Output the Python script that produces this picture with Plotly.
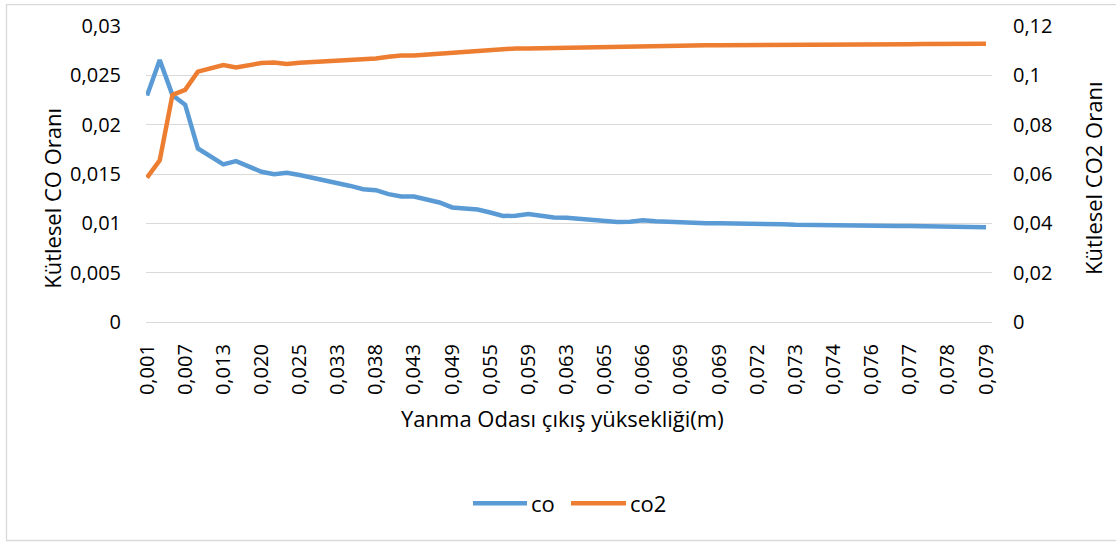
import plotly.graph_objects as go

# Combustion chamber exit height categories (every third one is labelled)
tick_labels = ["0,001", "0,007", "0,013", "0,020", "0,025", "0,033", "0,038", "0,043",
               "0,049", "0,055", "0,059", "0,063", "0,065", "0,066", "0,069", "0,069",
               "0,072", "0,073", "0,074", "0,076", "0,077", "0,078", "0,079"]
label_step = 3

# Mass fraction of CO (left axis)
co = [0.02295, 0.02655, 0.0230, 0.02202, 0.01759, 0.01681, 0.01597, 0.01631, 0.01581,
      0.01523, 0.01497, 0.01513, 0.0149, 0.01463, 0.0144, 0.01413, 0.01379, 0.01346,
      0.01336, 0.01296, 0.01272, 0.01272, 0.01245,
      0.01211, 0.01161, 0.01148, 0.0114, 0.0111, 0.01074, 0.01077, 0.01094, 0.01077,
      0.0106, 0.01057, 0.01044, 0.0104, 0.01027, 0.01014, 0.01017, 0.0103, 0.0102,
      0.01014, 0.01003, 0.0100, 0.0100, 0.0100,
      0.0100, 0.00998, 0.00995, 0.00993, 0.0099, 0.00985, 0.00982, 0.0098, 0.00978,
      0.00975, 0.00975, 0.00972, 0.0097, 0.00972, 0.00972, 0.0097, 0.00968, 0.00965,
      0.00962, 0.0096, 0.0096]

# Mass fraction of CO2 (right axis)
co2 = [0.0585, 0.0655, 0.0921, 0.0941, 0.1015, 0.1028, 0.1042, 0.1032, 0.1042, 0.105,
       0.1052, 0.1046, 0.1051, 0.1054, 0.1055, 0.1058, 0.1062, 0.1068, 0.1068, 0.1075,
       0.108, 0.108, 0.1084,
       0.1087, 0.1093, 0.1095, 0.1097, 0.1101, 0.1107, 0.1109, 0.1109, 0.111, 0.1111,
       0.1113, 0.1114, 0.1115, 0.1118, 0.1119, 0.1118, 0.1119, 0.1121, 0.1121, 0.1122,
       0.1122, 0.1122, 0.1122,
       0.1122, 0.1123, 0.1123, 0.1123, 0.1124, 0.1124, 0.1124, 0.1125, 0.1125, 0.1125,
       0.1125, 0.1126, 0.1126, 0.1126, 0.1126, 0.1127, 0.1127, 0.1127, 0.1128, 0.1128,
       0.1128]

left_ticks = [0, 0.005, 0.01, 0.015, 0.02, 0.025, 0.03]
left_tick_text = ["0", "0,005", "0,01", "0,015", "0,02", "0,025", "0,03"]
right_ticks = [0, 0.02, 0.04, 0.06, 0.08, 0.1, 0.12]
right_tick_text = ["0", "0,02", "0,04", "0,06", "0,08", "0,1", "0,12"]

series_names = ["co", "co2"]
BLUE = "#5B9BD5"
ORANGE = "#ED7D31"
GRID = "#D9D9D9"
TEXT = "#000000"
FONT = "Open Sans"
TICK_SIZE = 20
TITLE_SIZE = 22

W, H = 1116, 545
L, R, T, B = 146, 124, 24, 223
pw, ph = W - L - R, H - T - B


def px(x):
    return (x - L) / pw


def py(y):
    return (H - B - y) / ph


x = list(range(len(co)))

fig = go.Figure()
fig.add_trace(go.Scatter(x=x, y=co, name=series_names[0], mode="lines",
                         line=dict(color=BLUE, width=4.5), yaxis="y", showlegend=False))
fig.add_trace(go.Scatter(x=x, y=co2, name=series_names[1], mode="lines",
                         line=dict(color=ORANGE, width=4.5), yaxis="y2", showlegend=False))

fig.update_layout(
    width=W, height=H,
    margin=dict(l=L, r=R, t=T, b=B),
    paper_bgcolor="white", plot_bgcolor="white",
    font=dict(family=FONT, size=TICK_SIZE, color=TEXT),
    xaxis=dict(
        range=[-0.08, len(co) - 1 + 0.47],
        tickvals=x[::label_step], ticktext=tick_labels,
        tickangle=-90, showgrid=False, zeroline=False,
        showline=True, linecolor=GRID, linewidth=1.3,
        ticks="", ticklabelstandoff=13,
        tickfont=dict(family=FONT, size=TICK_SIZE, color=TEXT),
    ),
    yaxis=dict(
        range=[0, 0.03], tickvals=left_ticks, ticktext=left_tick_text,
        showgrid=True, gridcolor=GRID, gridwidth=1.3, zeroline=False,
        ticks="", ticklabelstandoff=24,
        tickfont=dict(family=FONT, size=TICK_SIZE, color=TEXT),
    ),
    yaxis2=dict(
        range=[0, 0.12], tickvals=right_ticks, ticktext=right_tick_text,
        overlaying="y", side="right", showgrid=False, zeroline=False,
        ticks="", ticklabelstandoff=20,
        tickfont=dict(family=FONT, size=TICK_SIZE, color=TEXT),
    ),
)

# Outer chart frame
fig.add_shape(type="rect", xref="paper", yref="paper",
              x0=px(6.5), x1=px(1125), y0=py(542), y1=py(2.5),
              line=dict(color=GRID, width=1.3), fillcolor="rgba(0,0,0,0)", layer="below")

# Axis titles
fig.add_annotation(text="Yanma Odası çıkış yüksekliği(m)", xref="paper", yref="paper",
                   x=px(562), y=py(419), xanchor="center", yanchor="middle",
                   showarrow=False, font=dict(family=FONT, size=TITLE_SIZE, color=TEXT))
fig.add_annotation(text="Kütlesel CO Oranı", xref="paper", yref="paper",
                   x=px(52), y=py(198), xanchor="center", yanchor="middle",
                   showarrow=False, textangle=-90,
                   font=dict(family=FONT, size=TITLE_SIZE, color=TEXT))
fig.add_annotation(text="Kütlesel CO2 Oranı", xref="paper", yref="paper",
                   x=px(1093), y=py(178), xanchor="center", yanchor="middle",
                   showarrow=False, textangle=-90,
                   font=dict(family=FONT, size=TITLE_SIZE, color=TEXT))

# Legend drawn below the axis title
legend_y = py(504.5)
for name, color, x0, x1, tx in [(series_names[0], BLUE, 473, 527, 529),
                                (series_names[1], ORANGE, 571, 626, 628)]:
    fig.add_shape(type="line", xref="paper", yref="paper",
                  x0=px(x0), x1=px(x1), y0=legend_y, y1=legend_y,
                  line=dict(color=color, width=4.5))
    fig.add_annotation(text=name, xref="paper", yref="paper", x=px(tx), y=legend_y,
                       xanchor="left", yanchor="middle", showarrow=False,
                       font=dict(family=FONT, size=TITLE_SIZE, color=TEXT))

fig.write_html("out.html")
